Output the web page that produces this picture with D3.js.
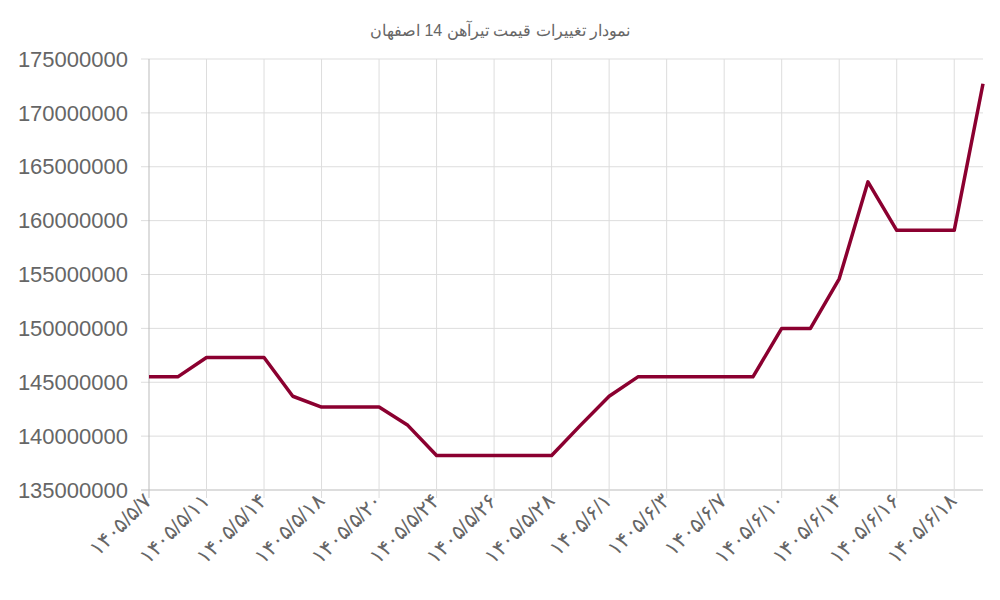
<!DOCTYPE html>
<html><head><meta charset="utf-8">
<script src="https://cdn.jsdelivr.net/npm/d3@7"></script>
<style>body{margin:0;background:#fff;font-family:"Liberation Sans",Arial,sans-serif}</style>
</head><body><svg id="chart" width="1000" height="600"></svg>
<script>
const dates = ["1405/5/7","1405/5/9","1405/5/11","1405/5/12","1405/5/14","1405/5/15","1405/5/18","1405/5/19",
  "1405/5/20","1405/5/21","1405/5/24","1405/5/25","1405/5/26","1405/5/27","1405/5/28","1405/5/30",
  "1405/6/1","1405/6/2","1405/6/3","1405/6/4","1405/6/7","1405/6/8","1405/6/10","1405/6/11",
  "1405/6/14","1405/6/15","1405/6/16","1405/6/17","1405/6/18","1405/6/19"];
const prices = [145500000,145500000,147300000,147300000,147300000,143700000,142700000,142700000,
  142700000,141000000,138200000,138200000,138200000,138200000,138200000,141000000,
  143700000,145500000,145500000,145500000,145500000,145500000,150000000,150000000,
  154600000,163600000,159100000,159100000,159100000,172700000];
const yTicks = [135000000,140000000,145000000,150000000,155000000,160000000,165000000,170000000,175000000];

const fa = s => s.replace(/\d/g, d => "۰۱۲۳۴۵۶۷۸۹"[d]);
const margin = {top: 59, right: 17, bottom: 110, left: 149};
const width = 1000 - margin.left - margin.right;
const height = 600 - margin.top - margin.bottom;

const svg = d3.select("#chart");
svg.append("text").attr("x", 500).attr("y", 36).attr("text-anchor", "middle")
  .attr("fill", "#666").attr("font-size", 16).attr("direction", "rtl")
  .text("نمودار تغییرات قیمت تیرآهن 14 اصفهان");

const g = svg.append("g").attr("transform", `translate(${margin.left},${margin.top})`);
const x = d3.scalePoint().domain(d3.range(dates.length)).range([0, width]);
const y = d3.scaleLinear().domain([135000000, 175000000]).range([height, 0]);

// horizontal grid + y labels
g.selectAll(".hg").data(yTicks).enter().append("line")
  .attr("x1", -8).attr("x2", width).attr("y1", d => y(d)).attr("y2", d => y(d))
  .attr("stroke", d => d === 135000000 ? "#bbb" : "#ddd");
g.selectAll(".yl").data(yTicks).enter().append("text")
  .attr("x", -21).attr("y", d => y(d)).attr("dy", "0.35em").attr("text-anchor", "end")
  .attr("fill", "#666").attr("font-size", 22).text(d => d);

// vertical grid every other point
const shown = d3.range(0, dates.length, 2);
g.selectAll(".vg").data(shown).enter().append("line")
  .attr("x1", d => x(d)).attr("x2", d => x(d)).attr("y1", 0).attr("y2", height + 8)
  .attr("stroke", d => d === 0 ? "#bbb" : "#ddd");
g.selectAll(".xl").data(shown).enter().append("text")
  .attr("transform", d => `translate(${x(d) + 4},${height + 12}) rotate(-45)`)
  .attr("text-anchor", "end").attr("fill", "#666").attr("font-size", 21)
  .text(d => fa(dates[d]));

g.append("path").datum(prices)
  .attr("fill", "none").attr("stroke", "#8b0030").attr("stroke-width", 3.5)
  .attr("stroke-linejoin", "round")
  .attr("d", d3.line().x((d, i) => x(i)).y(d => y(d)));
</script></body></html>
